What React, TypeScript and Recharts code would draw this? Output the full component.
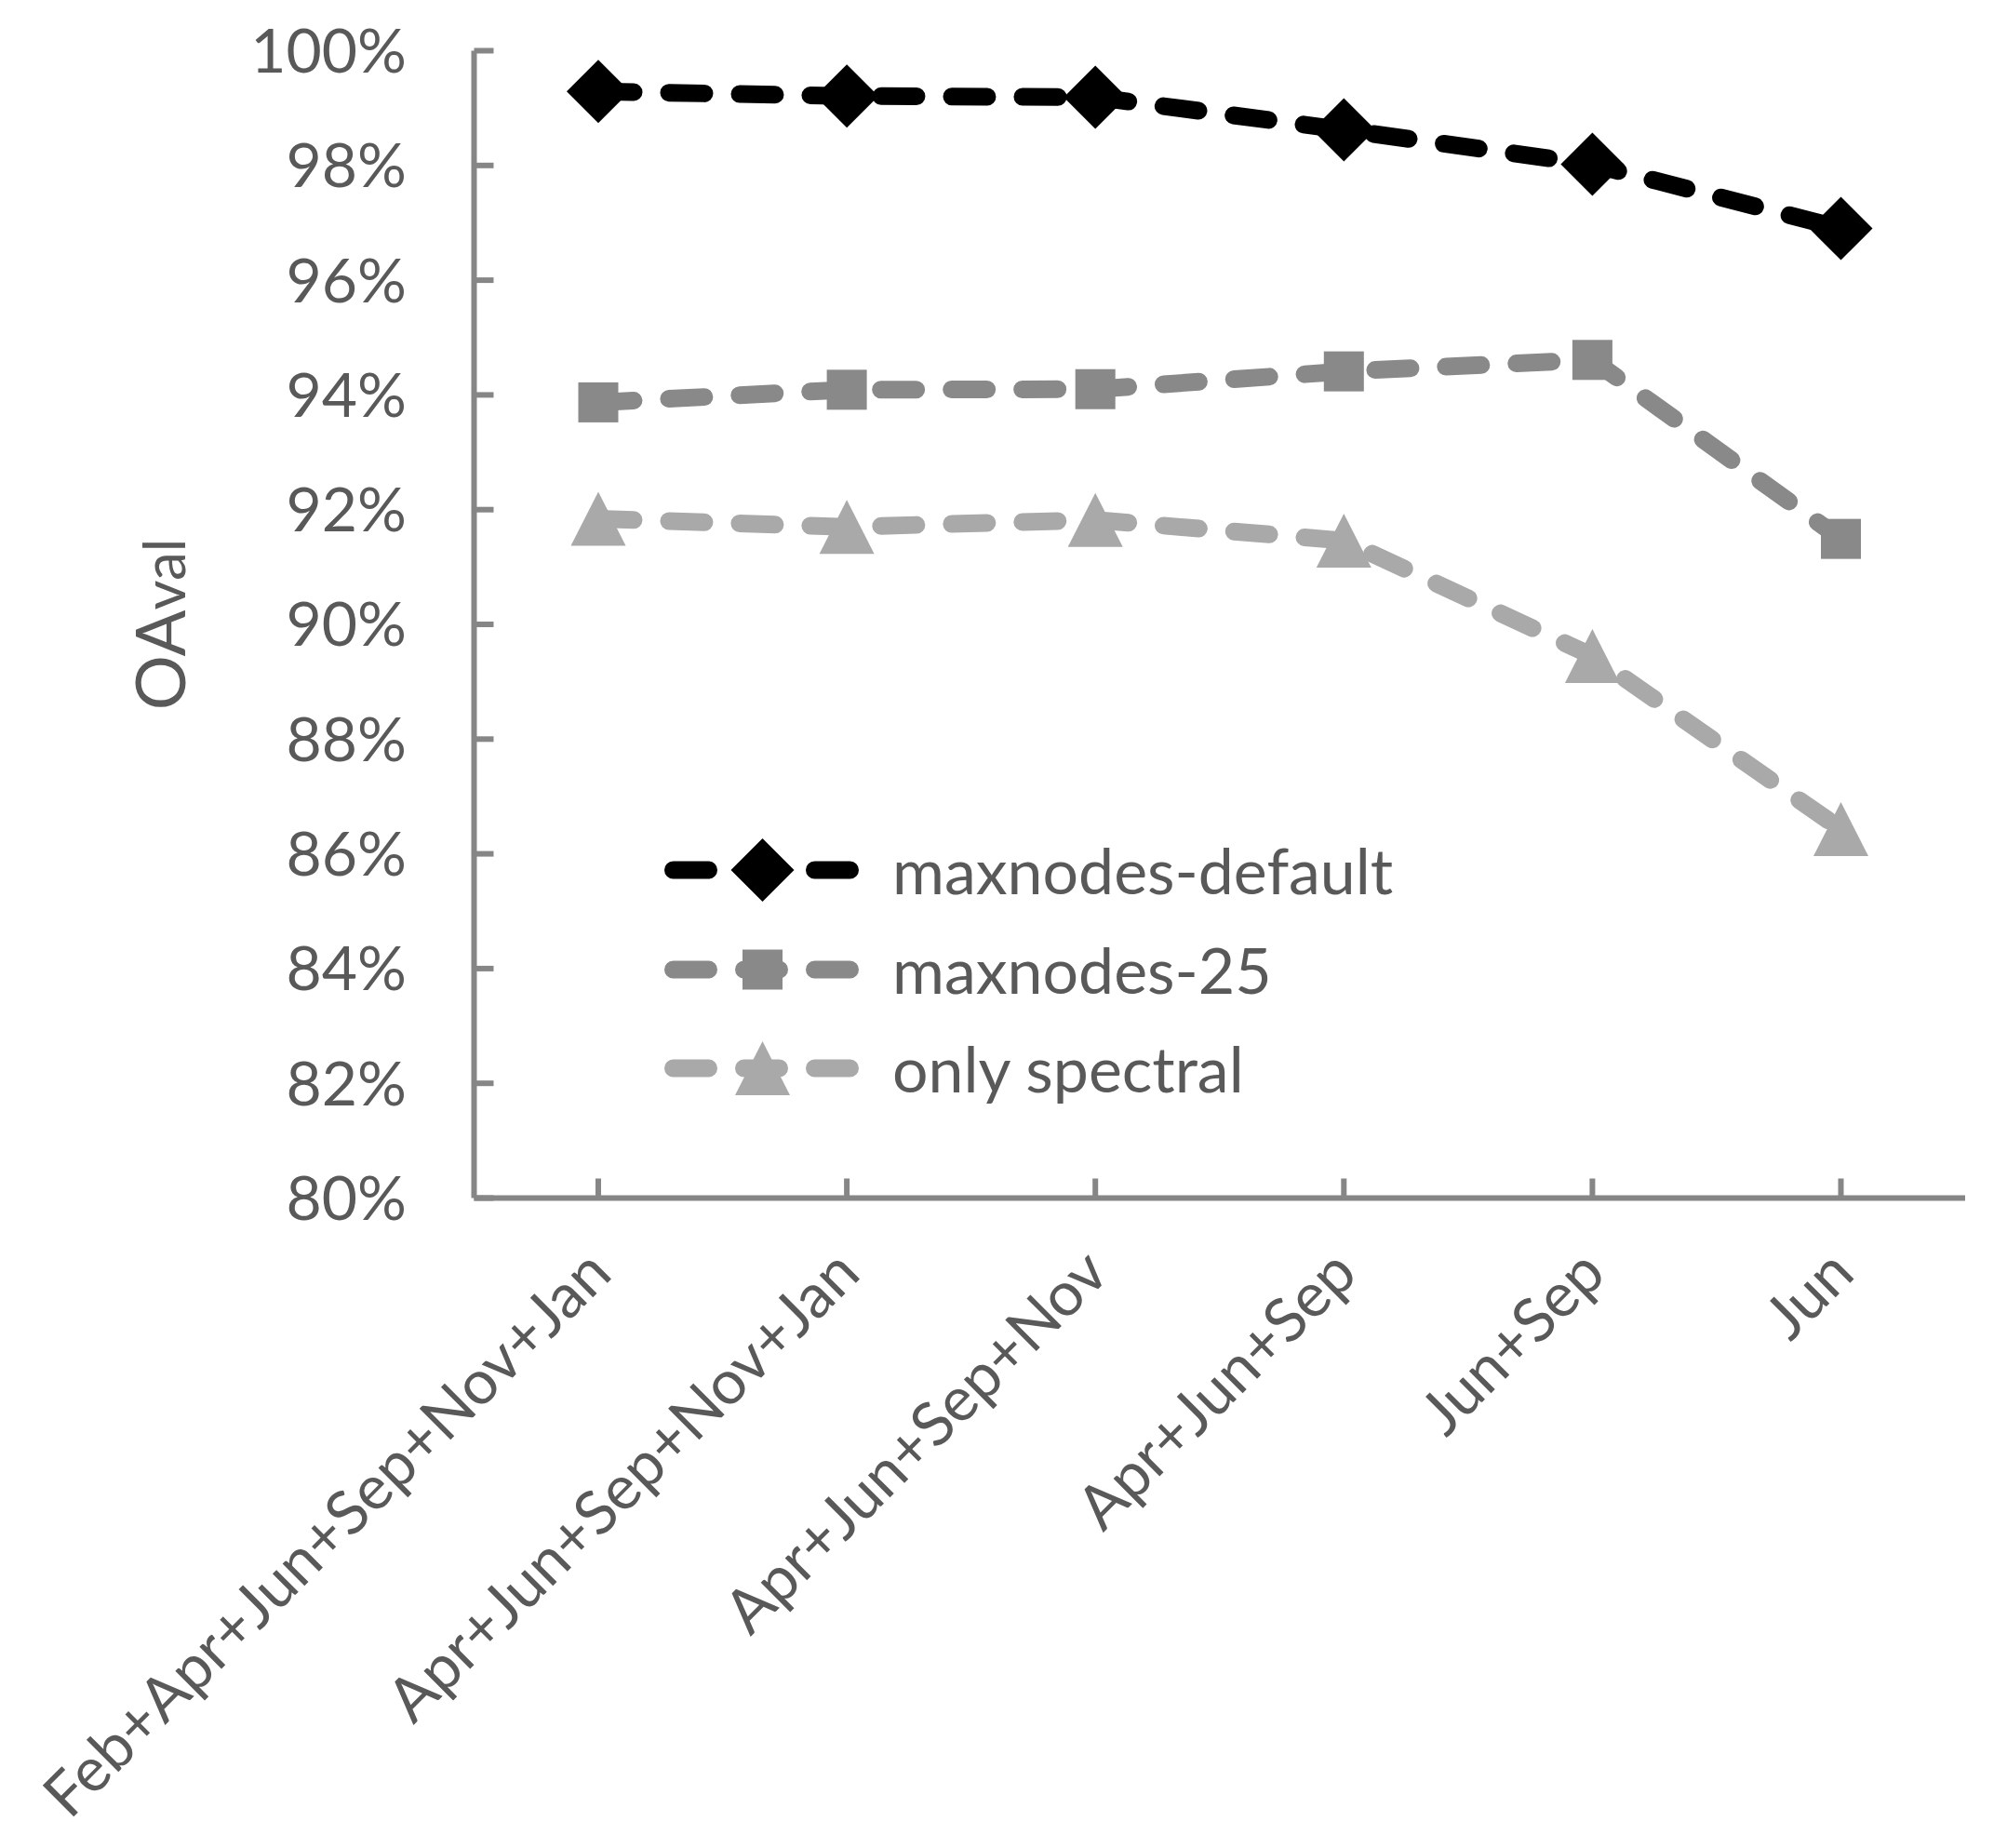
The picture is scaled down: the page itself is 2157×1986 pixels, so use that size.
import React from 'react';
import { LineChart, Line, XAxis, YAxis, Legend } from 'recharts';

const categories = [
  'Feb+Apr+Jun+Sep+Nov+Jan',
  'Apr+Jun+Sep+Nov+Jan',
  'Apr+Jun+Sep+Nov',
  'Apr+Jun+Sep',
  'Jun+Sep',
  'Jun',
];
const maxnodesDefault = [99.29, 99.21, 99.19, 98.62, 98.02, 96.9];
const maxnodes25 = [93.87, 94.09, 94.1, 94.41, 94.61, 91.49];
const onlySpectral = [91.84, 91.7, 91.82, 91.46, 89.45, 86.43];
const yTicks = [80, 82, 84, 86, 88, 90, 92, 94, 96, 98, 100];

const data = categories.map((name, i) => ({
  name,
  def: maxnodesDefault[i],
  m25: maxnodes25[i],
  spec: onlySpectral[i],
}));

const FONT = 'Lato, "Open Sans", sans-serif';
const TEXT = '#595959';
const AXIS = '#868686';
const DASH = '38 38';

const Diamond = ({ cx, cy, fill = '#000', r = 34 }: any) => (
  <polygon points={`${cx},${cy - r} ${cx + r},${cy} ${cx},${cy + r} ${cx - r},${cy}`} fill={fill} />
);
const Square = ({ cx, cy, fill = '#898989', h = 21.5 }: any) => (
  <rect x={cx - h} y={cy - h} width={h * 2} height={h * 2} fill={fill} />
);
const Triangle = ({ cx, cy, fill = '#a9a9a9', h = 29 }: any) => (
  <polygon points={`${cx},${cy - h} ${cx + h + 0.5},${cy + h} ${cx - h - 0.5},${cy + h}`} fill={fill} />
);

const series = [
  { key: 'def', label: 'maxnodes-default', color: '#000000', Marker: Diamond },
  { key: 'm25', label: 'maxnodes-25', color: '#898989', Marker: Square },
  { key: 'spec', label: 'only spectral', color: '#a9a9a9', Marker: Triangle },
];

const XTick = ({ x, y, payload }: any) => (
  <g transform={`translate(${x + 17},${y + 84})`}>
    <text transform="rotate(-45)" textAnchor="end" fill={TEXT} fontSize={66} fontFamily={FONT}>
      {payload.value}
    </text>
  </g>
);

const YLabel = ({ viewBox }: any) => {
  const x = viewBox.x + 199;
  const y = viewBox.y + viewBox.height / 2;
  return (
    <text x={x} y={y} transform={`rotate(-90, ${x}, ${y})`} textAnchor="middle" fill={TEXT} fontFamily={FONT}>
      <tspan fontSize={74}>OA</tspan>
      <tspan fontSize={62}>val</tspan>
    </text>
  );
};

const renderLegend = () => (
  <div style={{ fontFamily: FONT }}>
    {series.map(({ key, label, color, Marker }) => (
      <div key={key} style={{ display: 'flex', alignItems: 'center', height: 106.5 }}>
        <svg width={215} height={80}>
          <line x1={12.5} x2={204.5} y1={40} y2={40} stroke={color} strokeWidth={19}
            strokeDasharray={DASH} strokeLinecap="round" />
          <Marker cx={108.5} cy={40} fill={color} />
        </svg>
        <span style={{ marginLeft: 33, fontSize: 68, color: TEXT, lineHeight: 1.2 }}>{label}</span>
      </div>
    ))}
  </div>
);

export default function App() {
  return (
    <div style={{ position: 'absolute', left: 0, top: 0, background: '#fff' }}>
      <LineChart
        width={2157}
        height={1986}
        data={data}
        margin={{ top: 54.5, right: 45, bottom: 0, left: 0 }}
      >
        <XAxis
          dataKey="name"
          interval={0}
          padding={{ left: 133.5, right: 133.5 }}
          axisLine={{ stroke: AXIS, strokeWidth: 6 }}
          tickLine={{ stroke: AXIS, strokeWidth: 6 }}
          tickSize={-21}
          tickMargin={21}
          height={698.5}
          tick={<XTick />}
        />
        <YAxis
          width={509.5}
          domain={[80, 100]}
          ticks={yTicks}
          interval={0}
          tickFormatter={(v) => `${v}%`}
          axisLine={{ stroke: AXIS, strokeWidth: 6 }}
          tickLine={{ stroke: AXIS, strokeWidth: 6 }}
          tickSize={-21}
          tickMargin={93.5}
          tick={{ fill: TEXT, fontSize: 66, fontFamily: FONT }}
          label={<YLabel />}
        />
        <Legend
          layout="horizontal"
          verticalAlign="middle"
          align="center"
          content={renderLegend}
          wrapperStyle={{ left: 711, top: 882, width: 900 }}
        />
        {series.map(({ key, color, Marker }) => (
          <Line
            key={key}
            type="linear"
            dataKey={key}
            stroke={color}
            strokeWidth={19}
            strokeDasharray={DASH}
            strokeLinecap="round"
            strokeLinejoin="round"
            dot={(p: any) => <Marker key={`${key}-${p.index}`} cx={p.cx} cy={p.cy} fill={color} />}
            activeDot={false}
            isAnimationActive={false}
          />
        ))}
      </LineChart>
    </div>
  );
}
